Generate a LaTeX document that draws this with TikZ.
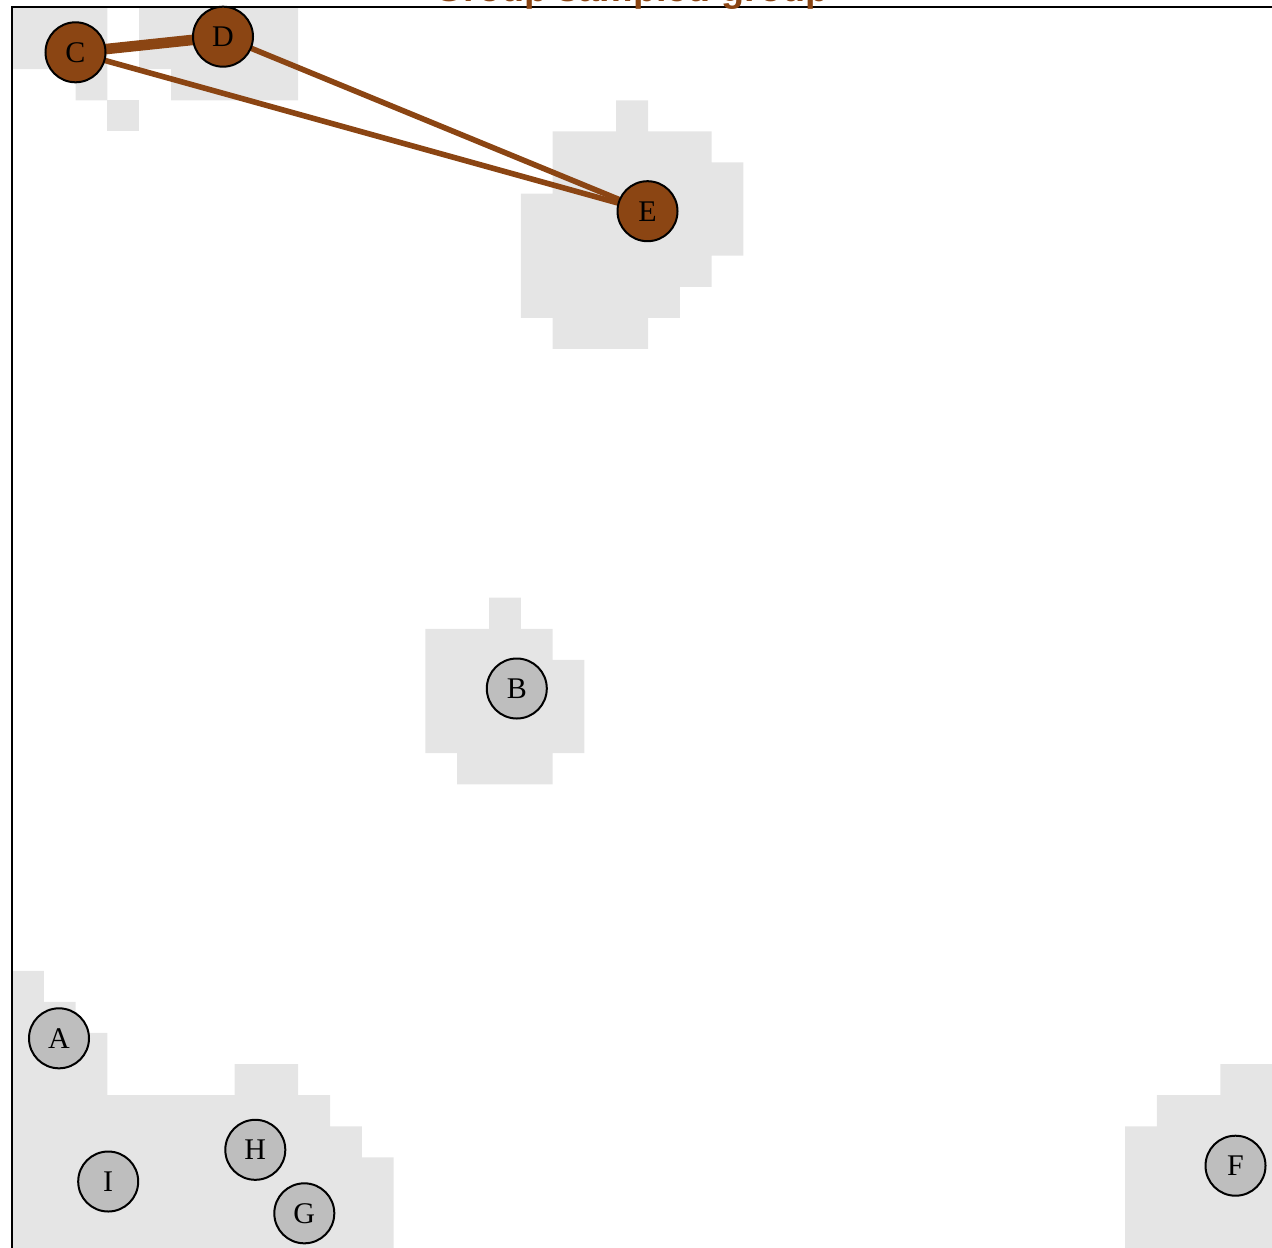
\documentclass[tikz,border=0pt]{standalone}
\usepackage{fontspec}
\setmainfont{Liberation Serif}
\newfontfamily\titlefont{Liberation Sans}
\pgfdeclarelayer{regionlayer}
\pgfdeclarelayer{edgelayer}
\pgfsetlayers{regionlayer,edgelayer,main}
\definecolor{edgebrown}{HTML}{8B4513}
\definecolor{nodegray}{HTML}{BEBEBE}
\definecolor{regiongray}{HTML}{E5E5E5}
\tikzset{
  vert/.style={circle, draw=black, line width=1pt, minimum size=30pt, inner sep=0pt, font=\fontsize{15}{15}\selectfont},
  grayvert/.style={vert, fill=nodegray},
  brownvert/.style={vert, fill=edgebrown},
  region/.style={fill=regiongray, draw=none},
  thinedge/.style={draw=edgebrown, line width=2.8pt},
  thickedge/.style={draw=edgebrown, line width=5.3pt},
}
\begin{document}
\begin{tikzpicture}[x=0.5pt, y=-0.5pt]
\useasboundingbox (0,0) rectangle (1272,1247);
\begin{pgfonlayer}{regionlayer}
\begin{scope}[shift={(12,7)}, x=15.9pt, y=-15.545pt]
  \fill[region] (0,0) -- (3,0) -- (3,3) -- (2,3) -- (2,2) -- (0,2) -- cycle;
  \fill[region] (3,3) rectangle (4,4);
  \fill[region] (4,0) -- (9,0) -- (9,3) -- (5,3) -- (5,2) -- (4,2) -- cycle;
  \fill[region] (19,3) -- (20,3) -- (20,4) -- (22,4) -- (22,5) -- (23,5) -- (23,8) -- (22,8) -- (22,9) -- (21,9) -- (21,10) -- (20,10) -- (20,11) -- (17,11) -- (17,10) -- (16,10) -- (16,6) -- (17,6) -- (17,4) -- (19,4) -- cycle;
  \fill[region] (15,19) -- (16,19) -- (16,20) -- (17,20) -- (17,21) -- (18,21) -- (18,24) -- (17,24) -- (17,25) -- (14,25) -- (14,24) -- (13,24) -- (13,20) -- (15,20) -- cycle;
  \fill[region] (0,31) -- (1,31) -- (1,32) -- (2,32) -- (2,33) -- (3,33) -- (3,35) -- (7,35) -- (7,34) -- (9,34) -- (9,35) -- (10,35) -- (10,36) -- (11,36) -- (11,37) -- (12,37) -- (12,40) -- (0,40) -- cycle;
  \fill[region] (35,36) -- (36,36) -- (36,35) -- (38,35) -- (38,34) -- (40,34) -- (40,40) -- (35,40) -- cycle;
  \draw[black, line width=1pt] (0,0) rectangle (40,40);
\end{scope}
\end{pgfonlayer}
% title (mostly outside the visible area)
\node[anchor=base west, inner sep=0pt, text=edgebrown, font=\titlefont\bfseries\fontsize{18.85}{18.85}\selectfont] (title) at (434,1.5) {Group sampled group};
% vertices
\node[brownvert] (C) at (75.5,52.3) {C};
\node[brownvert] (D) at (223,36.7) {D};
\node[brownvert] (E) at (647.5,211.2) {E};
\node[grayvert] (B) at (516.8,688.5) {B};
\node[grayvert] (A) at (59,1038.3) {A};
\node[grayvert] (I) at (108.2,1181.5) {I};
\node[grayvert] (H) at (255.3,1149.8) {H};
\node[grayvert] (G) at (304.3,1213.3) {G};
\node[grayvert] (F) at (1235.5,1165.7) {F};
% edges
\begin{pgfonlayer}{edgelayer}
  \draw[thickedge] (C.center) -- (D.center);
  \draw[thinedge] (C.center) -- (E.center);
  \draw[thinedge] (D.center) -- (E.center);
\end{pgfonlayer}
\end{tikzpicture}
\end{document}
